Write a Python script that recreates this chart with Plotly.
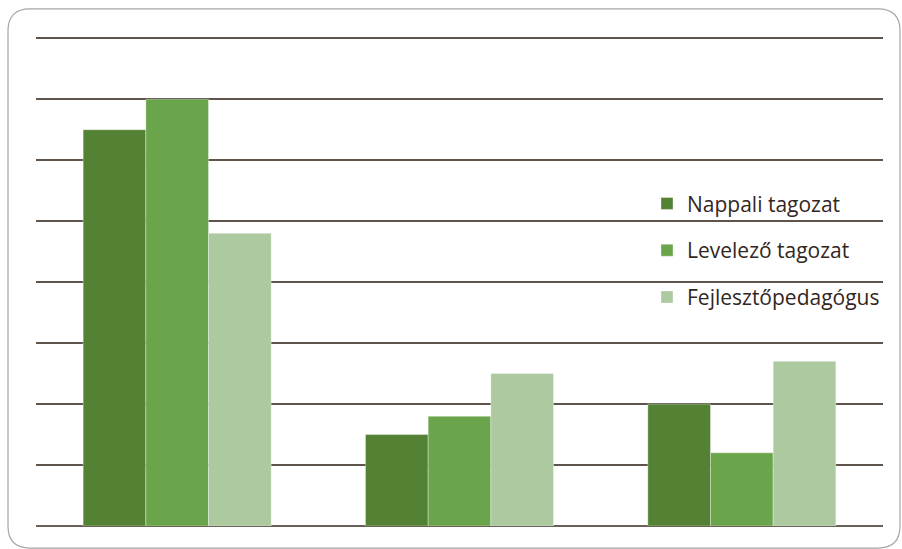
import plotly.graph_objects as go

categories = ["A", "B", "C"]
series_names = ["Nappali tagozat", "Levelező tagozat", "Fejlesztőpedagógus"]
nappali = [6.5, 1.5, 2.0]
levelezo = [7.0, 1.8, 1.2]
fejleszto = [4.8, 2.5, 2.7]
colors = ["#548235", "#6aa54b", "#acc99f"]

W, H = 902, 549
L, R, T, B = 36, 883, 38, 526

fig = go.Figure()
for i, (name, vals) in enumerate(zip(series_names, [nappali, levelezo, fejleszto])):
    fig.add_trace(go.Bar(
        x=categories, y=vals, name=name, legendgroup=f"g{i}",
        marker=dict(color=colors[i], line=dict(color="rgba(255,255,255,0.35)", width=1)),
    ))

def px(x):
    return (x - L) / (R - L)

def py(y):
    return (B - y) / (B - T)

# rounded border
x0, x1, y0, y1, r = 8, 900, 10, 548, 22
path = (
    f"M {px(x0 + r)} {py(y0)} L {px(x1 - r)} {py(y0)} "
    f"Q {px(x1)} {py(y0)} {px(x1)} {py(y0 + r)} "
    f"L {px(x1)} {py(y1 - r)} Q {px(x1)} {py(y1)} {px(x1 - r)} {py(y1)} "
    f"L {px(x0 + r)} {py(y1)} Q {px(x0)} {py(y1)} {px(x0)} {py(y1 - r)} "
    f"L {px(x0)} {py(y0 + r)} Q {px(x0)} {py(y0)} {px(x0 + r)} {py(y0)} Z"
)

fig.update_layout(
    width=W, height=H,
    margin=dict(l=L, r=W - R, t=T - 1, b=H - B),
    paper_bgcolor="white", plot_bgcolor="white",
    barmode="group", bargap=0.334, bargroupgap=0,
    showlegend=True,
    legend=dict(
        x=px(647), y=py(184), xanchor="left", yanchor="top",
        font=dict(family="Open Sans, Noto Sans, sans-serif", size=21, color="#33261f"),
        tracegroupgap=16.5, itemwidth=30, bgcolor="rgba(0,0,0,0)",
        traceorder="grouped",
    ),
    xaxis=dict(showticklabels=False, showgrid=False, zeroline=False, showline=False,
               ticks=""),
    yaxis=dict(range=[0, 8.02], tickvals=[1, 2, 3, 4, 5, 6, 7, 8], showticklabels=False,
               showgrid=True, gridcolor="#5e544b", gridwidth=1.5, zeroline=True,
               zerolinecolor="#6b6158", zerolinewidth=1.5, ticks=""),
    shapes=[dict(type="path", path=path, xref="paper", yref="paper",
                 line=dict(color="#a6a6a6", width=1.2), layer="below")],
)

fig.write_html("out.html")
